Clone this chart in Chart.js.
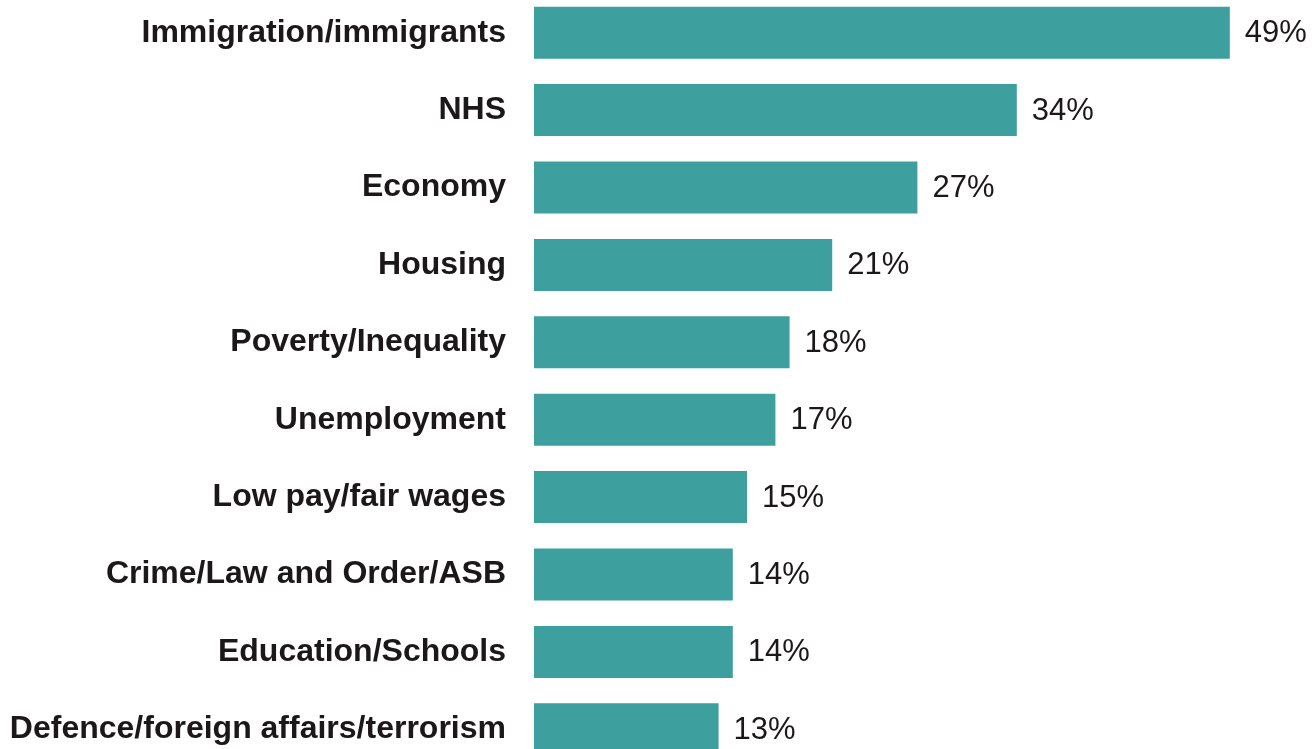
<!DOCTYPE html>
<html lang="en">
<head>
    <meta charset="UTF-8">
    <title>Most important issues</title>
    <script src="https://cdn.jsdelivr.net/npm/chart.js"></script>
    <style>
        html, body { margin: 0; padding: 0; background: #fff; overflow: hidden; }
        #wrap { position: absolute; left: 0; top: -6px; width: 1314px; height: 774px; }
    </style>
</head>
<body>
    <div id="wrap"><canvas id="issuesChart"></canvas></div>

    <script>
        // categories and shares (%)
        const issues = [
            'Immigration/immigrants',
            'NHS',
            'Economy',
            'Housing',
            'Poverty/Inequality',
            'Unemployment',
            'Low pay/fair wages',
            'Crime/Law and Order/ASB',
            'Education/Schools',
            'Defence/foreign affairs/terrorism'
        ];
        const shares = [49, 34, 27, 21, 18, 17, 15, 14, 14, 13];

        // value labels at the end of each bar
        const valueLabels = {
            id: 'valueLabels',
            afterDatasetsDraw(chart) {
                const ctx = chart.ctx;
                const meta = chart.getDatasetMeta(0);
                ctx.save();
                ctx.font = '31px "Liberation Sans", Arial, sans-serif';
                ctx.fillStyle = '#1c1718';
                ctx.textAlign = 'left';
                ctx.textBaseline = 'middle';
                meta.data.forEach((bar, i) => {
                    ctx.fillText(shares[i] + '%', bar.x + 15, bar.y + 1);
                });
                ctx.restore();
            }
        };

        new Chart(document.getElementById('issuesChart'), {
            type: 'bar',
            data: {
                labels: issues,
                datasets: [{
                    data: shares,
                    backgroundColor: '#3e9f9f',
                    borderWidth: 0,
                    barPercentage: 0.672,
                    categoryPercentage: 1
                }]
            },
            options: {
                indexAxis: 'y',
                responsive: true,
                maintainAspectRatio: false,
                animation: false,
                layout: { padding: { left: 0, right: 70, top: 0, bottom: 0 } },
                plugins: {
                    legend: { display: false },
                    tooltip: { enabled: false }
                },
                scales: {
                    x: {
                        display: false,
                        min: 0,
                        max: 50
                    },
                    y: {
                        grid: { display: false, drawTicks: false },
                        border: { display: false },
                        afterFit: function (axis) {
                            axis.width = 534;
                            axis.paddingTop = 0; // no half-label padding above/below
                            axis.paddingBottom = 0;
                        },
                        ticks: {
                            padding: 28,
                            color: '#1c1718',
                            font: { family: '"Liberation Sans", Arial, sans-serif', size: 32, weight: 'bold' }
                        }
                    }
                }
            },
            plugins: [valueLabels]
        });
    </script>
</body>
</html>
